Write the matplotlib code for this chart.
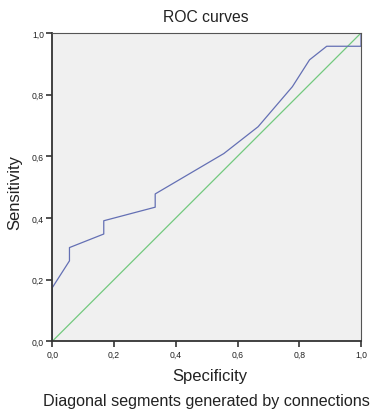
import matplotlib
matplotlib.use("Agg")
import matplotlib.pyplot as plt
from matplotlib.ticker import FuncFormatter

plt.rcParams['font.family'] = ['Liberation Sans', 'DejaVu Sans']

roc_x = [0.0, 0.0, 0.0556, 0.0556, 0.1667, 0.1667, 0.3333, 0.3333, 0.5556, 0.6667, 0.7778, 0.8333, 0.8889, 1.0, 1.0]
roc_y = [0.0, 0.174, 0.261, 0.304, 0.348, 0.391, 0.435, 0.478, 0.609, 0.696, 0.826, 0.913, 0.957, 0.957, 1.0]
ref_x = [0.0, 1.0]
ref_y = [0.0, 1.0]
ticks = [0.0, 0.2, 0.4, 0.6, 0.8, 1.0]

fig = plt.figure(figsize=(3.8, 4.14), dpi=100)
ax = fig.add_axes([52.3/380, 1 - 342.3/414, 308.7/380, 308.3/414])
ax.set_facecolor('#F0F0F0')
ax.plot(ref_x, ref_y, color='#72C97E', lw=0.9)
ax.plot(roc_x, roc_y, color='#6470B4', lw=0.9)
ax.set_xlim(0, 1)
ax.set_ylim(0, 1)
ax.set_xticks(ticks)
ax.set_yticks(ticks)
fmt = FuncFormatter(lambda v, p: f"{v:.1f}".replace('.', ','))
ax.xaxis.set_major_formatter(fmt)
ax.yaxis.set_major_formatter(fmt)
ax.tick_params(direction='out', length=4.5, width=1.2, color='#333333', labelsize=6.2, labelcolor='#222222', pad=1.5)
for s in ['left', 'bottom']:
    ax.spines[s].set_color('#333333')
    ax.spines[s].set_linewidth(1.3)
for s in ['top', 'right']:
    ax.spines[s].set_color('#555555')
    ax.spines[s].set_linewidth(0.8)

fig.text(206/380, 1 - 18/414, 'ROC curves', ha='center', va='center', fontsize=11.3, color='#222222')
fig.text(15/380, 1 - 192/414, 'Sensitivity', ha='center', va='center', rotation=90, fontsize=12, color='#222222')
fig.text(210/380, 1 - 377/414, 'Specificity', ha='center', va='center', fontsize=12, color='#222222')
fig.text(206/380, 1 - 402/414, 'Diagonal segments generated by connections', ha='center', va='center', fontsize=11.6, color='#222222')

fig.savefig('out.png', dpi=100)
